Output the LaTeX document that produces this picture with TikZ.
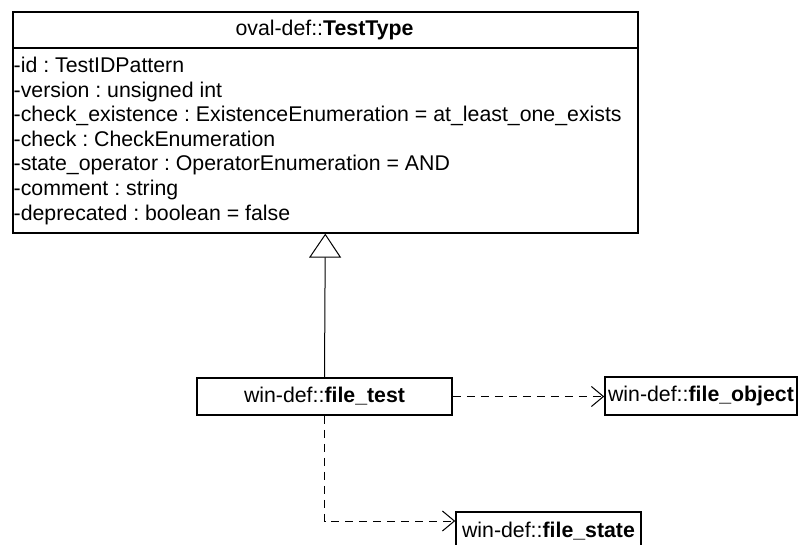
\documentclass[tikz,border=0pt]{standalone}
\usepackage{fontspec}
\setmainfont{Liberation Sans}
\usetikzlibrary{arrows.meta}
\frenchspacing
\begin{document}
\begin{tikzpicture}[x=1pt,y=-1pt,
  every node/.style={font=\fontsize{21.3}{25}\selectfont, inner sep=0pt},
  box/.style={draw, line width=1.6pt},
  conn/.style={line width=1pt},
  attr/.style={anchor=base west},
  dep/.style={conn, dash pattern=on 8pt off 6pt, -{Straight Barb[length=12pt,width=20pt,line width=1pt]}},
  gen/.style={conn, -{Triangle[open,length=24pt,width=32pt,line width=1pt]}}]
\useasboundingbox (0,0) rectangle (798,545);
% main class box
\node[box, anchor=north west, minimum width=625pt, minimum height=221pt] (tt) at (12,11) {};
\node (ttname) at (324.5,29.5) {oval-def::\textbf{TestType}};
\coordinate (hl) at (12,48);
\draw[box] (tt.west |- hl) -- (tt.east |- hl);
\node[attr] (a1) at (13.5,72.5) {-id : TestIDPattern};
\node[attr] (a2) at (13.5,97.1) {-version : unsigned int};
\node[attr] (a3) at (13.5,121.7) {-check\_existence : ExistenceEnumeration = at\_least\_one\_exists};
\node[attr] (a4) at (13.5,146.3) {-check : CheckEnumeration};
\node[attr] (a5) at (13.5,170.9) {-state\_operator : OperatorEnumeration = AND};
\node[attr] (a6) at (13.5,195.5) {-comment : string};
\node[attr] (a7) at (13.5,220.1) {-deprecated : boolean = false};
% other classes
\node[box, minimum width=255pt, minimum height=37pt] (ft) at (324.5,396.5) {win-def::\textbf{file\_test}};
\node[box, minimum width=192pt, minimum height=38pt] (fo) at (701,396) {win-def::\textbf{file\_object}};
\node[box, minimum width=185pt, minimum height=38pt] (fs) at (548.5,531) {win-def::\textbf{file\_state}};
% connectors
\draw[gen] (ft.north) -- (tt.south);
\draw[dep] (ft.east) -- (ft.east -| fo.west);
\coordinate (fsin) at (456,521);
\draw[dep] (ft.south) |- (fs.west |- fsin);
\end{tikzpicture}
\end{document}
